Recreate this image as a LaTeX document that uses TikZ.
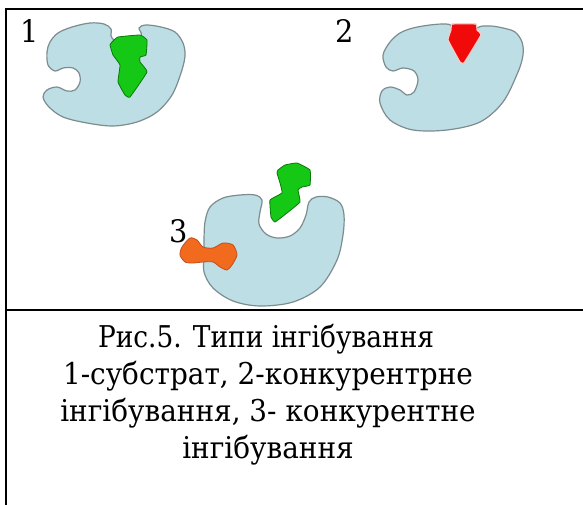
\documentclass[tikz,border=0pt]{standalone}
\usepackage{fontspec}
\setmainfont{DejaVu Serif}[FakeStretch=0.93]
\newfontfamily\capfont{DejaVu Serif}[FakeStretch=0.93]
\newfontfamily\capfontnarrow{DejaVu Serif}[FakeStretch=0.88]
\begin{document}
\begin{tikzpicture}[x=1pt,y=-1pt,
  enzyme/.style={fill=enzfill,draw=enzline,line width=1.2pt,line join=round},
  substrate/.style={fill=subfill,draw=subline,line width=0.8pt,line join=round},
  inhibitor/.style={fill=inhfill,draw=inhrim,line width=1.2pt,line join=round},
  blocker/.style={fill=blkfill,draw=blkline,line width=0.8pt,line join=round},
  rule/.style={line width=2pt,draw=black},
  numlabel/.style={font=\capfont\fontsize{31}{37}\selectfont,inner sep=0pt,anchor=base west},
  caption/.style={font=\capfont\fontsize{30}{37}\selectfont,inner sep=0pt,anchor=base}]
\definecolor{enzfill}{RGB}{189,222,228}
\definecolor{enzline}{RGB}{125,140,142}
\definecolor{subfill}{RGB}{22,200,22}
\definecolor{subline}{RGB}{10,120,10}
\definecolor{inhfill}{RGB}{240,10,10}
\definecolor{inhrim}{RGB}{245,205,200}
\definecolor{blkfill}{RGB}{242,106,30}
\definecolor{blkline}{RGB}{190,80,30}
\useasboundingbox (0,0) rectangle (583,505);
\fill[white] (0,0) rectangle (583,505);

% table rules
\coordinate (tl) at (6,9);
\coordinate (tr) at (583,9);
\coordinate (ml) at (6,310);
\coordinate (mr) at (583,310);
\coordinate (bl) at (6,505);
\draw[rule,line cap=rect] (tr) -- (tl) -- (bl);
\draw[rule] (ml) -- (mr);

% enzyme with bound substrate
\draw[enzyme] plot[smooth cycle,tension=0.55] coordinates {
  (50,42) (58,33) (72,27) (90,23) (104,24) (111,29) (112,38) (126,48)
  (141,36) (139,28) (146,25) (161,27) (175,32) (183,43) (185,56) (181,73)
  (172,95) (157,112) (137,122) (113,126) (87,123) (63,117) (49,107) (43,97)
  (47,90) (57,87) (67,91) (75,90) (80,82) (79,73) (73,68) (63,68) (55,71)
  (48,65) (47,52)};
\draw[substrate] plot[smooth cycle,tension=0.2] coordinates {
  (112,42) (118,37) (140,35) (147,40) (146,55) (140,57) (140,62) (147,72)
  (130,97) (125,95) (118,82) (120,65) (113,55) (110,45)};

% enzyme with inhibitor in the active site
\draw[enzyme] plot[smooth cycle,tension=0.55] coordinates {
  (390,42) (400,33) (413,28) (430,25) (446,24) (452,27) (462,45) (477,28)
  (490,26) (503,28) (515,32) (522,42) (523,55) (518,72) (503,102) (480,122)
  (447,130) (413,130) (390,120) (380,103) (382,91) (390,87) (400,90)
  (407,95) (414,92) (418,80) (414,71) (403,68) (393,71) (386,67) (383,55)};
\draw[inhibitor] plot[smooth cycle,tension=0.15] coordinates {
  (452,24) (476,24) (477,30) (481,35) (464,63) (460,62) (448,40) (451,30)};

% enzyme with inhibitor outside the active site
\draw[enzyme] plot[smooth cycle,tension=0.55] coordinates {
  (210,207) (223,198) (240,195) (255,195) (262,200) (260,212) (259,224)
  (266,234) (277,238) (290,236) (300,228) (306,215) (309,202) (316,197)
  (328,197) (340,203) (344,215) (343,235) (337,260) (320,287) (293,302)
  (260,306) (233,301) (213,288) (204,272) (204,255) (204,240) (205,222)};
\draw[substrate] plot[smooth cycle,tension=0.2] coordinates {
  (278,170) (285,165) (297,163) (310,170) (310,185) (302,187) (298,190)
  (300,202) (287,213) (275,222) (271,217) (270,200) (282,193) (280,183)
  (277,173)};
\draw[blocker] plot[smooth cycle,tension=0.45] coordinates {
  (182,247) (190,238) (197,240) (203,247) (213,248) (223,243) (233,245)
  (237,255) (232,265) (227,270) (220,267) (213,262) (203,262) (193,263)
  (185,262) (180,255)};

% panel numbers
\node[numlabel] (n1) at (20,43) {1};
\node[numlabel] (n2) at (335,43) {2};
\node[numlabel] (n3) at (169,242) {3};

% caption
\node[caption] (c1) at (266,347) {\capfontnarrow Рис.5. Типи інгібування};
\node[caption] (c2) at (268,384) {1-субстрат, 2-конкурентрне};
\node[caption] (c3) at (268,421) {інгібування, 3- конкурентне};
\node[caption] (c4) at (268,458) {інгібування};
\end{tikzpicture}
\end{document}
